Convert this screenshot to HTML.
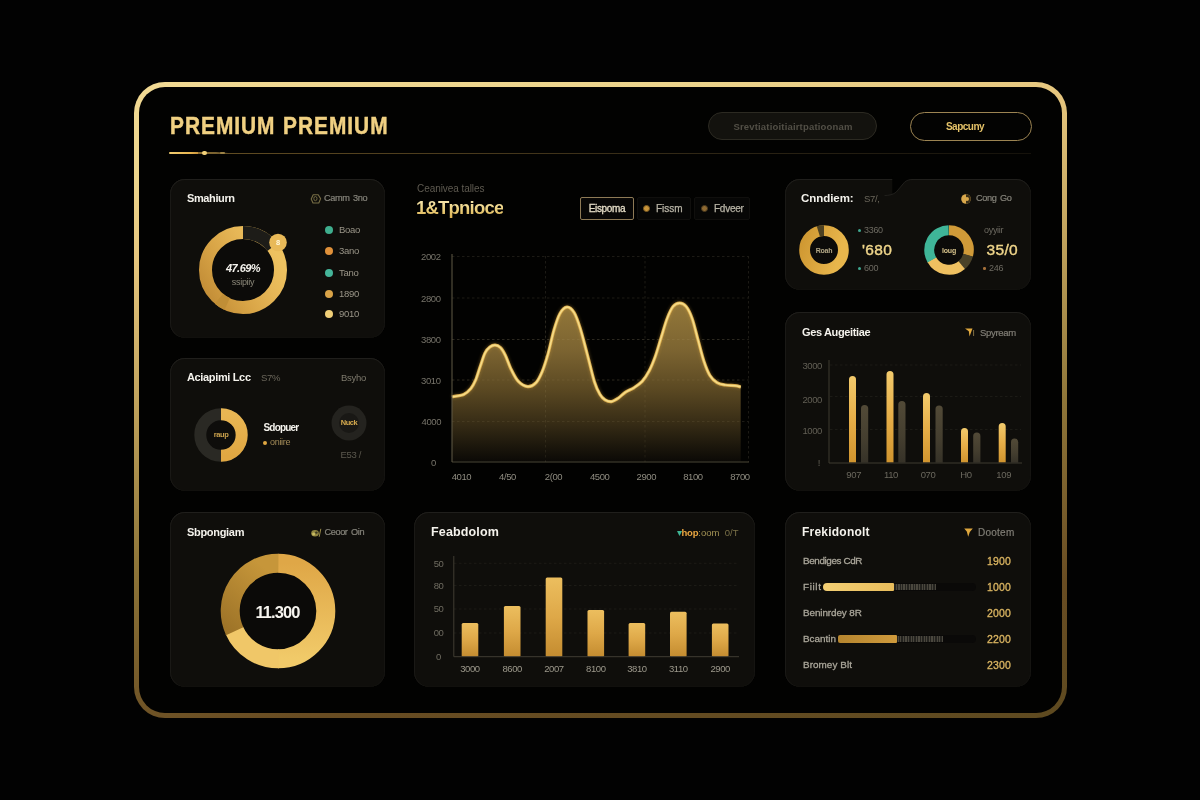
<!DOCTYPE html>
<html lang="en">
<head>
<meta charset="utf-8">
<title>Premium Premium</title>
<style>
*{box-sizing:border-box;margin:0;padding:0}
html,body{width:1200px;height:800px;overflow:hidden;background:#020202;font-family:"Liberation Sans",sans-serif;color:#fff}
body{position:relative;background:#020202}
.abs{position:absolute}
.frame{position:absolute;left:134px;top:82px;width:933px;height:636px;border-radius:31px;padding:5.3px;
 background:linear-gradient(170deg,#f2da94 0%,#ecd48c 12%,#e6c67e 22%,#c0a25c 40%,#8f7639 60%,#684c22 83%,#5e4a20 100%)}
.frame-in{width:100%;height:100%;border-radius:26px;background:#020201}
.card{position:absolute;background:#0f0e0b;border-radius:15px;box-shadow:inset 0 1px 0 #201f1c,inset 1px 0 0 #1a1916,inset -1px 0 0 #151411,inset 0 -1px 0 #11100d}
.t{position:absolute;white-space:nowrap;line-height:1}
.w{color:#f4f2ec;font-weight:700;font-size:11px;letter-spacing:-0.35px}
.g{color:#85806f;font-size:9.5px;letter-spacing:-0.3px}
.gd{color:#85837a;font-size:9.2px;letter-spacing:-0.4px;-webkit-text-stroke:0.2px #85837a}
.au{color:#e8c46a}
</style>
</head>
<body>
<div class="frame"><div class="frame-in"></div></div>

<!-- header -->
<div class="t" id="title" style="left:170px;top:115px;font-size:23.2px;font-weight:700;letter-spacing:1.1px;word-spacing:0.9px;color:#f0d082;-webkit-text-stroke:0.45px #f0d082;transform-origin:0 50%;transform:scaleX(0.9)">PREMIUM PREMIUM</div>
<div class="abs" style="left:170px;top:152.6px;width:861px;height:1px;background:linear-gradient(90deg,#6a5426 0%,#5a4720 12%,#493a1c 35%,#2c2414 65%,#15120b 100%)"></div>
<div class="abs" style="left:169px;top:151.6px;width:30px;height:2.8px;border-radius:1.5px;background:linear-gradient(90deg,#f0cc70 0%,#e8b650 70%,#c8923a 100%)"></div>
<div class="abs" style="left:198px;top:152.2px;width:30px;height:1.8px;background:linear-gradient(90deg,#8a6c30 0%,#7a6230 60%,rgba(106,84,38,0) 100%)"></div>
<div class="abs" style="left:201.5px;top:151px;width:5.5px;height:4px;border-radius:2px;background:#f3d27a"></div>
<div class="abs" style="left:220px;top:152px;width:5px;height:2px;border-radius:1px;background:#9c8246"></div>

<div class="abs" style="left:708px;top:112px;width:169px;height:28px;border-radius:14px;background:#13120e;border:1px solid #2c2a22"></div>
<div class="t g" style="left:708.5px;width:169px;text-align:center;top:122.3px;font-size:9.5px;font-weight:700;color:#524f46;letter-spacing:0.18px">Srevtiatioitiairtpatioonam</div>
<div class="abs" style="left:910px;top:112px;width:122px;height:29px;border-radius:15px;background:#030302;border:1.2px solid #9c8452"></div>
<div class="t" style="left:904px;width:122px;text-align:center;top:121.5px;font-size:10px;font-weight:700;color:#e4c268;letter-spacing:-0.5px">Sapcuny</div>


<!-- cards -->
<div class="card" id="c1" style="left:170.3px;top:179.3px;width:214.7px;height:158.5px"></div>
<div class="card" id="c2" style="left:170.3px;top:357.6px;width:214.7px;height:133px"></div>
<div class="card" id="c3" style="left:170.3px;top:511.5px;width:214.7px;height:175px"></div>
<div class="card" id="c4" style="left:785px;top:179.3px;width:246px;height:111px"></div>
<div class="card" id="c5" style="left:785px;top:311.6px;width:246px;height:179.4px"></div>
<div class="card" id="c6" style="left:785px;top:511.5px;width:246px;height:175px"></div>
<div class="card" id="c7" style="left:414px;top:511.5px;width:341px;height:175px"></div>

<!-- card 1 -->
<div class="t w" style="left:187px;top:193px;letter-spacing:-0.39px">Smahiurn</div>
<svg class="abs" style="left:310.3px;top:193.3px" width="12" height="12" viewBox="0 0 12 12"><path d="M3.2 1.8H8.2L10.6 5.6L8.8 10H3L1.2 6Z" fill="none" stroke="#786e46" stroke-width="1.1" stroke-linejoin="round"/><ellipse cx="5.4" cy="5.6" rx="1.6" ry="2.1" fill="none" stroke="#786e46" stroke-width="0.9"/></svg>
<div class="t gd" style="left:324px;top:193.5px">Camm&nbsp;&thinsp;3no</div>
<svg class="abs" style="left:191px;top:218px" width="104" height="104" viewBox="-52 -52 104 104">
 <defs><linearGradient id="gA" x1="0.05" y1="0.85" x2="0.95" y2="0.3"><stop offset="0" stop-color="#c48f38"/><stop offset="0.35" stop-color="#d8a446"/><stop offset="0.7" stop-color="#e6b656"/><stop offset="1" stop-color="#eec260"/></linearGradient></defs>
 <circle r="31" fill="#0c0b09"/>
 <circle r="37.5" fill="none" stroke="url(#gA)" stroke-width="13"/>
 <path d="M0 -37.5 A37.5 37.5 0 0 1 29.5 -23.1" fill="none" stroke="#1d1c18" stroke-width="13"/>
 <path d="M-15.85 33.99 A37.5 37.5 0 0 1 -24.1 28.73" fill="none" stroke="#c08e36" stroke-width="13"/>
 <circle cx="35" cy="-27.5" r="8.8" fill="#e8b958"/>
 <text x="35" y="-24.8" font-size="7.5" fill="#fff7dc" text-anchor="middle" font-family="Liberation Sans, sans-serif" font-weight="700">8</text>
</svg>
<div class="t" style="left:203px;width:80px;text-align:center;top:262.5px;font-size:11px;font-weight:700;font-style:italic;color:#f4f2ec;letter-spacing:-0.55px">47.69%</div>
<div class="t g" style="left:203px;width:80px;text-align:center;top:277.5px;font-size:9px;color:#8b8778">ssipiiy</div>
<div class="abs" style="left:325px;top:226.3px;width:8px;height:8px;border-radius:50%;background:#3fae8e"></div><div class="t g" style="left:339px;top:225.3px;font-size:9.5px;color:#9a9588">Boao</div>
<div class="abs" style="left:325px;top:247.4px;width:8px;height:8px;border-radius:50%;background:#e0913a"></div><div class="t g" style="left:339px;top:246.4px;font-size:9.5px;color:#9a9588">3ano</div>
<div class="abs" style="left:325px;top:268.5px;width:8px;height:8px;border-radius:50%;background:#45b59a"></div><div class="t g" style="left:339px;top:267.5px;font-size:9.5px;color:#9a9588">Tano</div>
<div class="abs" style="left:325px;top:289.5px;width:8px;height:8px;border-radius:50%;background:#d9a348"></div><div class="t g" style="left:339px;top:288.5px;font-size:9.5px;color:#9a9588">1890</div>
<div class="abs" style="left:325px;top:310px;width:8px;height:8px;border-radius:50%;background:#f0cf78"></div><div class="t g" style="left:339px;top:309px;font-size:9.5px;color:#9a9588">9010</div>

<!-- card 2 -->
<div class="t w" style="left:187px;top:372px;letter-spacing:-0.35px">Aciapimi Lcc</div>
<div class="t g" style="left:261px;top:373px;color:#6b675b">S7&#37;</div>
<div class="t g" style="left:341px;top:373px;color:#7d796c">Bsyho</div>
<svg class="abs" style="left:191px;top:405px" width="60" height="60" viewBox="-30 -30 60 60">
 <defs><linearGradient id="gB" x1="0" y1="0" x2="0" y2="1"><stop offset="0" stop-color="#e9b653"/><stop offset="1" stop-color="#e0a742"/></linearGradient></defs>
 <circle r="15" fill="#0e0d0b"/>
 <circle r="20.7" fill="none" stroke="#2a2924" stroke-width="12"/>
 <path d="M0.00 -20.70 A20.7 20.7 0 0 1 0.00 20.70" fill="none" stroke="url(#gB)" stroke-width="12"/>
</svg>
<div class="t" style="left:201px;width:40px;text-align:center;top:431px;font-size:7.5px;font-weight:700;color:#c9a04c;letter-spacing:-0.4px">raup</div>
<div class="t w" style="left:263.5px;top:422.5px;font-size:10px;letter-spacing:-0.8px">Sdopuer</div>
<div class="abs" style="left:262.5px;top:440.5px;width:4px;height:4px;border-radius:50%;background:#e0a742"></div>
<div class="t g" style="left:270px;top:438px;color:#a48c58;font-size:9px">oniire</div>
<svg class="abs" style="left:329px;top:402.5px" width="40" height="40" viewBox="-20 -20 40 40">
 <circle r="17.5" fill="#24231f"/><circle r="10" fill="#191815"/>
</svg>
<div class="t" style="left:329px;width:40px;text-align:center;top:419px;font-size:7.5px;font-weight:700;color:#d4a94e;letter-spacing:-0.4px">Nuck</div>
<div class="t g" style="left:340.5px;top:450px;color:#5c594f">E53 /</div>

<!-- card 3 -->
<div class="t w" style="left:187px;top:527px;letter-spacing:-0.31px">Sbpongiam</div>
<svg class="abs" style="left:309.5px;top:527px" width="12" height="12" viewBox="0 0 12 12"><ellipse cx="5" cy="6.3" rx="3.8" ry="3.2" fill="#8f8440"/><circle cx="3.6" cy="7" r="1.5" fill="#c9bc62"/><circle cx="6.4" cy="5.6" r="1.2" fill="#3a3620"/><path d="M9.2 9.8L10.8 1.8" stroke="#9a8c4a" stroke-width="1" fill="none"/></svg>
<div class="t gd" style="left:324.5px;top:528px">Ceoor&nbsp;&thinsp;Oin</div>
<svg class="abs" style="left:217.5px;top:551px" width="120" height="120" viewBox="-60 -60 120 120">
 <defs>
  <linearGradient id="gC1" x1="0" y1="0" x2="0" y2="1"><stop offset="0" stop-color="#dfa747"/><stop offset="1" stop-color="#f1ca69"/></linearGradient>
  <linearGradient id="gC2" x1="0" y1="1" x2="0.6" y2="0"><stop offset="0" stop-color="#9e7428"/><stop offset="1" stop-color="#c6963a"/></linearGradient>
 </defs>
 <circle r="38.5" fill="#0b0a08"/>
 <path d="M0.00 -47.80 A47.8 47.8 0 0 1 0.00 47.80" fill="none" stroke="url(#gC1)" stroke-width="19"/>
 <path d="M0.83 47.79 A47.8 47.8 0 0 1 -43.67 19.44" fill="none" stroke="#f0c768" stroke-width="19"/>
 <path d="M-43.32 20.20 A47.8 47.8 0 0 1 0.42 -47.80" fill="none" stroke="url(#gC2)" stroke-width="19"/>
</svg>
<div class="t" style="left:237.5px;width:80px;text-align:center;top:604px;font-size:16.5px;font-weight:700;color:#f6f4ee;letter-spacing:-0.9px">11.300</div>

<!-- card 4 -->
<svg class="abs" style="left:880px;top:176px" width="40" height="24" viewBox="0 0 40 24"><path d="M12.3 0H33V3.2C29 3.4 26.5 4.4 24.5 6.2C21.5 9 19.5 13 16.3 16C15 17.2 13.8 17.6 12.3 17.8Z" fill="#020201"/><path d="M4.5 19.6C9 19.4 13.5 18.6 16.3 16C19.5 13 21.5 9 24.5 6.2C26.5 4.4 29 3.5 33 3.5" fill="none" stroke="#22211e" stroke-width="0.9"/></svg>
<div class="t w" style="left:801px;top:192.5px;font-size:11.5px;letter-spacing:-0.05px">Cnndiem:</div>
<div class="t g" style="left:864px;top:194px;color:#6b675b">S7/,</div>
<svg class="abs" style="left:960px;top:193px" width="12" height="12" viewBox="0 0 12 12"><circle cx="6" cy="6" r="4.8" fill="#d9a84c"/><path d="M6 1.2 A4.8 4.8 0 0 1 6 10.8 Z" fill="#3a2f18"/><circle cx="7" cy="6" r="2" fill="#d9a84c"/></svg>
<div class="t gd" style="left:976px;top:194px">Cong&nbsp;&thinsp;Go</div>
<svg class="abs" style="left:794px;top:220px" width="60" height="60" viewBox="-30 -30 60 60">
 <defs><linearGradient id="gD" x1="0" y1="0" x2="1" y2="0.3"><stop offset="0" stop-color="#cf9832"/><stop offset="1" stop-color="#e8b64c"/></linearGradient></defs>
 <circle r="14.2" fill="#0c0b09"/>
 <circle r="19.4" fill="none" stroke="url(#gD)" stroke-width="10.8"/>
 <path d="M-5.67 -18.55 A19.4 19.4 0 0 1 -0.00 -19.40" fill="none" stroke="#4d4122" stroke-width="10.8"/>
</svg>
<div class="t" style="left:804px;width:40px;text-align:center;top:246.5px;font-size:7px;font-weight:700;color:#b5a987;letter-spacing:-0.2px">Roah</div>
<div class="abs" style="left:858px;top:228.5px;width:3px;height:3px;border-radius:50%;background:#3fa890"></div>
<div class="t g" style="left:864px;top:225.5px;color:#6d6a61;font-size:9px">3360</div>
<div class="t" style="left:862px;top:242px;font-size:15.5px;font-weight:400;-webkit-text-stroke:0.4px #efd58a;color:#efd58a;letter-spacing:0.35px">'680</div>
<div class="abs" style="left:858px;top:267px;width:3px;height:3px;border-radius:50%;background:#3fa890"></div>
<div class="t g" style="left:864px;top:264px;color:#6d6a61;font-size:9px">600</div>
<svg class="abs" style="left:918.7px;top:220px" width="60" height="60" viewBox="-30 -30 60 60">
 <circle r="15" fill="#0c0b09"/>
 <path d="M0.00 -19.75 A19.75 19.75 0 0 1 18.98 5.44" fill="none" stroke="#d09a38" stroke-width="10"/>
 <path d="M19.08 5.11 A19.75 19.75 0 0 1 12.43 15.35" fill="none" stroke="#4a4228" stroke-width="10"/>
 <path d="M12.70 15.13 A19.75 19.75 0 0 1 -17.27 9.57" fill="none" stroke="#efc060" stroke-width="10"/>
 <path d="M-17.10 9.88 A19.75 19.75 0 0 1 -0.34 -19.75" fill="none" stroke="#3fb598" stroke-width="10"/>
</svg>
<div class="t" style="left:929px;width:40px;text-align:center;top:246.5px;font-size:7px;font-weight:700;color:#d8c48c;letter-spacing:-0.2px">loug</div>
<div class="t g" style="left:984px;top:225.5px;color:#6d6a61;font-size:9px">oyyiir</div>
<div class="t" style="left:986.5px;top:242px;font-size:15.5px;font-weight:400;-webkit-text-stroke:0.4px #efd58a;color:#efd58a;letter-spacing:0.35px">35/0</div>
<div class="abs" style="left:983px;top:267px;width:2.5px;height:2.5px;border-radius:50%;background:#a4703a"></div>
<div class="t g" style="left:989px;top:264px;color:#6d6a61;font-size:9px">246</div>

<!-- center chart -->
<div class="t g" style="left:417px;top:184px;color:#5f5b51;font-size:10px;letter-spacing:-0.06px">Ceanivea talles</div>
<div class="t" style="left:416px;top:199px;font-size:18.5px;font-weight:700;letter-spacing:-0.8px;background:linear-gradient(180deg,#f8eab8 0%,#ecd07c 55%,#d9ae50 100%);-webkit-background-clip:text;background-clip:text;color:transparent">1&amp;Tpnioce</div>
<div class="abs" style="left:580px;top:197px;width:54px;height:23px;border:1px solid #8e7a56;border-radius:2px;background:#080706"></div>
<div class="t" style="left:580px;width:54px;text-align:center;top:203.5px;font-size:10px;color:#e4dcc6;letter-spacing:-0.35px;-webkit-text-stroke:0.3px #e4dcc6">Eispoma</div>
<div class="abs" style="left:637px;top:197px;width:54px;height:23px;border:1px solid #100f0d;border-radius:2px;background:#070706"></div>
<div class="abs" style="left:643px;top:205px;width:7px;height:7px;border-radius:50%;background:#c9953a;border:1.5px solid #7a5a22"></div>
<div class="t" style="left:656px;top:203.5px;font-size:10px;color:#b8b4a6;letter-spacing:0px;-webkit-text-stroke:0.25px #b8b4a6">Fissm</div>
<div class="abs" style="left:694px;top:197px;width:56px;height:23px;border:1px solid #100f0d;border-radius:2px;background:#070706"></div>
<div class="abs" style="left:701px;top:205px;width:7px;height:7px;border-radius:50%;background:#8f6a32;border:1.5px solid #4a3a1e"></div>
<div class="t" style="left:714px;top:203.5px;font-size:10px;color:#b8b4a6;letter-spacing:-0.25px;-webkit-text-stroke:0.25px #b8b4a6">Fdveer</div>
<svg class="abs" style="left:405px;top:240px" width="360" height="250" viewBox="0 0 360 250">
 <defs>
  <linearGradient id="gArea" x1="0" y1="62" x2="0" y2="222" gradientUnits="userSpaceOnUse">
   <stop offset="0" stop-color="#94783a"/><stop offset="0.3" stop-color="#7c6431"/><stop offset="0.55" stop-color="#5a4822"/><stop offset="0.75" stop-color="#382d16"/><stop offset="0.9" stop-color="#1c170c"/><stop offset="1" stop-color="#0b0906"/>
  </linearGradient>
  <filter id="glow" x="-5%" y="-20%" width="110%" height="140%"><feGaussianBlur stdDeviation="1.6"/></filter>
 </defs>
 <g stroke="#1c1a15" stroke-width="1" stroke-dasharray="2.5 2.5" fill="none">
  <path d="M47 16.5H344M47 58H344M47 99.5H344M47 140H344M47 181.5H344"/>
  <path d="M140.5 16V222M240 16V222M343.5 16V222"/>
 </g>
 <path d="M46.9 156.8 C48.9 156.4 55.5 155.9 58.7 154.5 C61.9 153.1 63.9 150.9 65.9 148.5 C67.9 146.1 69.0 143.9 70.6 140.2 C72.2 136.4 73.8 130.6 75.4 126.0 C77.0 121.5 78.5 116.1 80.1 112.9 C81.7 109.7 83.2 108.3 84.9 107.0 C86.6 105.7 88.3 105.0 90.1 105.1 C91.9 105.2 93.8 106.0 95.5 107.7 C97.2 109.4 98.5 111.7 100.3 115.3 C102.1 118.9 104.0 125.2 106.2 129.5 C108.4 133.8 110.5 138.5 113.3 141.4 C116.1 144.2 119.8 146.4 122.8 146.6 C125.8 146.8 128.7 145.1 131.1 142.6 C133.5 140.2 135.1 136.6 137.1 131.9 C139.1 127.1 141.0 121.0 143.0 114.1 C145.0 107.2 146.9 97.1 148.9 90.4 C150.9 83.7 152.7 77.6 154.9 73.7 C157.1 69.8 159.6 67.3 162.0 67.1 C164.4 66.9 166.9 69.1 169.1 72.6 C171.3 76.1 172.9 81.1 175.1 88.0 C177.3 94.9 179.8 105.2 182.2 114.1 C184.6 123.0 187.2 134.7 189.3 141.4 C191.4 148.1 193.2 151.4 195.0 154.5 C196.8 157.6 198.1 158.6 200.0 159.8 C201.9 161.0 204.1 161.9 206.4 161.6 C208.6 161.3 211.1 159.6 213.5 158.0 C215.9 156.4 218.0 153.8 220.6 152.1 C223.2 150.4 226.1 149.6 228.9 147.8 C231.7 146.0 234.6 144.2 237.2 141.4 C239.8 138.5 242.1 134.8 244.3 130.7 C246.5 126.5 248.3 122.0 250.3 116.5 C252.3 111.0 254.2 103.8 256.2 97.5 C258.2 91.2 260.2 83.6 262.2 78.5 C264.2 73.4 266.0 69.2 268.1 66.6 C270.2 64.0 272.5 63.1 274.7 63.1 C276.9 63.1 279.0 64.0 281.1 66.6 C283.2 69.2 285.1 73.0 287.1 78.5 C289.1 84.0 291.0 92.8 293.0 99.9 C295.0 107.0 296.9 115.3 298.9 121.2 C300.9 127.1 302.7 131.9 304.9 135.5 C307.1 139.1 309.4 141.0 312.0 142.6 C314.6 144.2 317.3 144.5 320.3 145.0 C323.3 145.5 327.2 145.4 329.8 145.7 C332.4 146.0 334.7 146.7 335.7 146.9 L335.7 221.6 L46.9 221.6 Z" fill="url(#gArea)"/>
 <g stroke="rgba(255,236,190,0.07)" stroke-width="1" stroke-dasharray="2.5 2.5" fill="none"><path d="M47 99.5H336M47 140H336M47 181.5H336"/><path d="M140.5 70V222M240 145V222"/></g>
 <path d="M46.9 156.8 C48.9 156.4 55.5 155.9 58.7 154.5 C61.9 153.1 63.9 150.9 65.9 148.5 C67.9 146.1 69.0 143.9 70.6 140.2 C72.2 136.4 73.8 130.6 75.4 126.0 C77.0 121.5 78.5 116.1 80.1 112.9 C81.7 109.7 83.2 108.3 84.9 107.0 C86.6 105.7 88.3 105.0 90.1 105.1 C91.9 105.2 93.8 106.0 95.5 107.7 C97.2 109.4 98.5 111.7 100.3 115.3 C102.1 118.9 104.0 125.2 106.2 129.5 C108.4 133.8 110.5 138.5 113.3 141.4 C116.1 144.2 119.8 146.4 122.8 146.6 C125.8 146.8 128.7 145.1 131.1 142.6 C133.5 140.2 135.1 136.6 137.1 131.9 C139.1 127.1 141.0 121.0 143.0 114.1 C145.0 107.2 146.9 97.1 148.9 90.4 C150.9 83.7 152.7 77.6 154.9 73.7 C157.1 69.8 159.6 67.3 162.0 67.1 C164.4 66.9 166.9 69.1 169.1 72.6 C171.3 76.1 172.9 81.1 175.1 88.0 C177.3 94.9 179.8 105.2 182.2 114.1 C184.6 123.0 187.2 134.7 189.3 141.4 C191.4 148.1 193.2 151.4 195.0 154.5 C196.8 157.6 198.1 158.6 200.0 159.8 C201.9 161.0 204.1 161.9 206.4 161.6 C208.6 161.3 211.1 159.6 213.5 158.0 C215.9 156.4 218.0 153.8 220.6 152.1 C223.2 150.4 226.1 149.6 228.9 147.8 C231.7 146.0 234.6 144.2 237.2 141.4 C239.8 138.5 242.1 134.8 244.3 130.7 C246.5 126.5 248.3 122.0 250.3 116.5 C252.3 111.0 254.2 103.8 256.2 97.5 C258.2 91.2 260.2 83.6 262.2 78.5 C264.2 73.4 266.0 69.2 268.1 66.6 C270.2 64.0 272.5 63.1 274.7 63.1 C276.9 63.1 279.0 64.0 281.1 66.6 C283.2 69.2 285.1 73.0 287.1 78.5 C289.1 84.0 291.0 92.8 293.0 99.9 C295.0 107.0 296.9 115.3 298.9 121.2 C300.9 127.1 302.7 131.9 304.9 135.5 C307.1 139.1 309.4 141.0 312.0 142.6 C314.6 144.2 317.3 144.5 320.3 145.0 C323.3 145.5 327.2 145.4 329.8 145.7 C332.4 146.0 334.7 146.7 335.7 146.9" fill="none" stroke="#c99a3c" stroke-width="4.5" opacity="0.3" filter="url(#glow)"/>
 <path d="M46.9 156.8 C48.9 156.4 55.5 155.9 58.7 154.5 C61.9 153.1 63.9 150.9 65.9 148.5 C67.9 146.1 69.0 143.9 70.6 140.2 C72.2 136.4 73.8 130.6 75.4 126.0 C77.0 121.5 78.5 116.1 80.1 112.9 C81.7 109.7 83.2 108.3 84.9 107.0 C86.6 105.7 88.3 105.0 90.1 105.1 C91.9 105.2 93.8 106.0 95.5 107.7 C97.2 109.4 98.5 111.7 100.3 115.3 C102.1 118.9 104.0 125.2 106.2 129.5 C108.4 133.8 110.5 138.5 113.3 141.4 C116.1 144.2 119.8 146.4 122.8 146.6 C125.8 146.8 128.7 145.1 131.1 142.6 C133.5 140.2 135.1 136.6 137.1 131.9 C139.1 127.1 141.0 121.0 143.0 114.1 C145.0 107.2 146.9 97.1 148.9 90.4 C150.9 83.7 152.7 77.6 154.9 73.7 C157.1 69.8 159.6 67.3 162.0 67.1 C164.4 66.9 166.9 69.1 169.1 72.6 C171.3 76.1 172.9 81.1 175.1 88.0 C177.3 94.9 179.8 105.2 182.2 114.1 C184.6 123.0 187.2 134.7 189.3 141.4 C191.4 148.1 193.2 151.4 195.0 154.5 C196.8 157.6 198.1 158.6 200.0 159.8 C201.9 161.0 204.1 161.9 206.4 161.6 C208.6 161.3 211.1 159.6 213.5 158.0 C215.9 156.4 218.0 153.8 220.6 152.1 C223.2 150.4 226.1 149.6 228.9 147.8 C231.7 146.0 234.6 144.2 237.2 141.4 C239.8 138.5 242.1 134.8 244.3 130.7 C246.5 126.5 248.3 122.0 250.3 116.5 C252.3 111.0 254.2 103.8 256.2 97.5 C258.2 91.2 260.2 83.6 262.2 78.5 C264.2 73.4 266.0 69.2 268.1 66.6 C270.2 64.0 272.5 63.1 274.7 63.1 C276.9 63.1 279.0 64.0 281.1 66.6 C283.2 69.2 285.1 73.0 287.1 78.5 C289.1 84.0 291.0 92.8 293.0 99.9 C295.0 107.0 296.9 115.3 298.9 121.2 C300.9 127.1 302.7 131.9 304.9 135.5 C307.1 139.1 309.4 141.0 312.0 142.6 C314.6 144.2 317.3 144.5 320.3 145.0 C323.3 145.5 327.2 145.4 329.8 145.7 C332.4 146.0 334.7 146.7 335.7 146.9" fill="none" stroke="#d9ac4e" stroke-width="3.2"/>
 <path d="M46.9 156.8 C48.9 156.4 55.5 155.9 58.7 154.5 C61.9 153.1 63.9 150.9 65.9 148.5 C67.9 146.1 69.0 143.9 70.6 140.2 C72.2 136.4 73.8 130.6 75.4 126.0 C77.0 121.5 78.5 116.1 80.1 112.9 C81.7 109.7 83.2 108.3 84.9 107.0 C86.6 105.7 88.3 105.0 90.1 105.1 C91.9 105.2 93.8 106.0 95.5 107.7 C97.2 109.4 98.5 111.7 100.3 115.3 C102.1 118.9 104.0 125.2 106.2 129.5 C108.4 133.8 110.5 138.5 113.3 141.4 C116.1 144.2 119.8 146.4 122.8 146.6 C125.8 146.8 128.7 145.1 131.1 142.6 C133.5 140.2 135.1 136.6 137.1 131.9 C139.1 127.1 141.0 121.0 143.0 114.1 C145.0 107.2 146.9 97.1 148.9 90.4 C150.9 83.7 152.7 77.6 154.9 73.7 C157.1 69.8 159.6 67.3 162.0 67.1 C164.4 66.9 166.9 69.1 169.1 72.6 C171.3 76.1 172.9 81.1 175.1 88.0 C177.3 94.9 179.8 105.2 182.2 114.1 C184.6 123.0 187.2 134.7 189.3 141.4 C191.4 148.1 193.2 151.4 195.0 154.5 C196.8 157.6 198.1 158.6 200.0 159.8 C201.9 161.0 204.1 161.9 206.4 161.6 C208.6 161.3 211.1 159.6 213.5 158.0 C215.9 156.4 218.0 153.8 220.6 152.1 C223.2 150.4 226.1 149.6 228.9 147.8 C231.7 146.0 234.6 144.2 237.2 141.4 C239.8 138.5 242.1 134.8 244.3 130.7 C246.5 126.5 248.3 122.0 250.3 116.5 C252.3 111.0 254.2 103.8 256.2 97.5 C258.2 91.2 260.2 83.6 262.2 78.5 C264.2 73.4 266.0 69.2 268.1 66.6 C270.2 64.0 272.5 63.1 274.7 63.1 C276.9 63.1 279.0 64.0 281.1 66.6 C283.2 69.2 285.1 73.0 287.1 78.5 C289.1 84.0 291.0 92.8 293.0 99.9 C295.0 107.0 296.9 115.3 298.9 121.2 C300.9 127.1 302.7 131.9 304.9 135.5 C307.1 139.1 309.4 141.0 312.0 142.6 C314.6 144.2 317.3 144.5 320.3 145.0 C323.3 145.5 327.2 145.4 329.8 145.7 C332.4 146.0 334.7 146.7 335.7 146.9" fill="none" stroke="#f6dc88" stroke-width="1.6"/>
 <path d="M47 222H344" fill="none" stroke="#4a4637" stroke-width="1"/><path d="M47 14V222" fill="none" stroke="#615b46" stroke-width="1"/>
 <g font-family="Liberation Sans, sans-serif" font-size="9.5" fill="#77746a" letter-spacing="-0.4">
  <text x="16" y="19.5">2002</text><text x="16" y="61.5">2800</text><text x="16" y="103">3800</text><text x="16" y="143.5">3010</text><text x="16.5" y="185">4000</text><text x="26" y="225.5">0</text>
 </g>
 <g font-family="Liberation Sans, sans-serif" font-size="9.5" fill="#8f8c80" letter-spacing="-0.4" text-anchor="middle">
  <text x="56.5" y="239.5">4010</text><text x="102.5" y="239.5">4/50</text><text x="148.5" y="239.5">2(00</text><text x="194.7" y="239.5">4500</text><text x="241.3" y="239.5">2900</text><text x="288" y="239.5">8100</text><text x="335" y="239.5">8700</text>
 </g>
</svg>

<!-- card 7 -->
<div class="t w" style="left:431px;top:525.5px;font-size:12.5px;letter-spacing:0.15px">Feabdolom</div>
<div class="t" style="left:676.5px;top:527.5px;font-size:9.5px;letter-spacing:0px;color:#a39355"><span style="color:#3fb595">&#9662;</span><b style="color:#eaa640;letter-spacing:-0.2px">hop</b>:oom&nbsp; <span style="color:#7a7048">0/T</span></div>
<svg class="abs" style="left:414px;top:513px" width="341" height="172" viewBox="0 0 341 172">
 <defs><linearGradient id="gBar7" x1="0" y1="0" x2="0" y2="1"><stop offset="0" stop-color="#ecbe5e"/><stop offset="0.5" stop-color="#dea848"/><stop offset="1" stop-color="#c48c30"/></linearGradient></defs>
 <path d="M40 50.3H325M40 72.5H325M40 96.0H325M40 120.0H325" stroke="#1c1b16" stroke-width="1" stroke-dasharray="2.5 2.5" fill="none"/>
 <rect x="47.7" y="109.9" width="16.6" height="33.8" rx="1.5" fill="url(#gBar7)"/><rect x="89.9" y="93.0" width="16.6" height="50.7" rx="1.5" fill="url(#gBar7)"/><rect x="131.7" y="64.6" width="16.6" height="79.1" rx="1.5" fill="url(#gBar7)"/><rect x="173.5" y="96.9" width="16.6" height="46.8" rx="1.5" fill="url(#gBar7)"/><rect x="214.6" y="109.9" width="16.6" height="33.8" rx="1.5" fill="url(#gBar7)"/><rect x="256.0" y="98.8" width="16.6" height="44.9" rx="1.5" fill="url(#gBar7)"/><rect x="297.9" y="110.5" width="16.6" height="33.2" rx="1.5" fill="url(#gBar7)"/>
 <path d="M39.8 43V143.7H325" fill="none" stroke="#403d33" stroke-width="1"/>
 <g font-family="Liberation Sans, sans-serif" font-size="9.5" fill="#6f6c61" letter-spacing="-0.4"><text x="29.5" y="53.6" text-anchor="end">50</text><text x="29.5" y="75.8" text-anchor="end">80</text><text x="29.5" y="99.3" text-anchor="end">50</text><text x="29.5" y="123.3" text-anchor="end">00</text><text x="27" y="147.0" text-anchor="end">0</text></g>
 <g font-family="Liberation Sans, sans-serif" font-size="9.5" fill="#9c988b" letter-spacing="-0.4" text-anchor="middle"><text x="56.0" y="159.3">3000</text><text x="98.2" y="159.3">8600</text><text x="140.0" y="159.3">2007</text><text x="181.8" y="159.3">8100</text><text x="222.9" y="159.3">3810</text><text x="264.3" y="159.3">3110</text><text x="306.2" y="159.3">2900</text></g>
</svg>

<!-- card 5 -->
<div class="t w" style="left:802px;top:327px;letter-spacing:-0.37px">Ges Augeitiae</div>
<svg class="abs" style="left:964px;top:327px" width="11" height="11" viewBox="0 0 11 11"><path d="M1 1.5H8.5L5.5 9.5L4.8 4.2Z" fill="#e0a83e"/><path d="M9.6 3V9" stroke="#8d7a48" stroke-width="0.9"/></svg>
<div class="t g" style="left:980px;top:328px;color:#807e76;-webkit-text-stroke:0.2px #807e76">Spyream</div>
<svg class="abs" style="left:785px;top:311px" width="246" height="180" viewBox="0 0 246 180">
 <defs>
  <linearGradient id="gBar5" x1="0" y1="0" x2="0" y2="1"><stop offset="0" stop-color="#f2ca6c"/><stop offset="0.5" stop-color="#e6ae48"/><stop offset="1" stop-color="#d0942e"/></linearGradient>
  <linearGradient id="gBar5d" x1="0" y1="0" x2="0" y2="1"><stop offset="0" stop-color="#524a37"/><stop offset="0.6" stop-color="#443e2f"/><stop offset="1" stop-color="#363228"/></linearGradient>
 </defs>
 <path d="M45 54H236M45 85.5H236M45 118.5H236" stroke="#1c1b16" stroke-width="1" stroke-dasharray="2.5 2.5" fill="none"/>
 <path d="M64.0 151.5V68.5a3.5 3.5 0 0 1 7 0V151.5Z" fill="url(#gBar5)"/><path d="M101.5 151.5V63.5a3.5 3.5 0 0 1 7 0V151.5Z" fill="url(#gBar5)"/><path d="M138.0 151.5V85.5a3.5 3.5 0 0 1 7 0V151.5Z" fill="url(#gBar5)"/><path d="M176.0 151.5V120.5a3.5 3.5 0 0 1 7 0V151.5Z" fill="url(#gBar5)"/><path d="M213.7 151.5V115.5a3.5 3.5 0 0 1 7 0V151.5Z" fill="url(#gBar5)"/><path d="M76.0 151.5V97.5a3.6 3.6 0 0 1 7.2 0V151.5Z" fill="url(#gBar5d)"/><path d="M113.3 151.5V93.5a3.6 3.6 0 0 1 7.2 0V151.5Z" fill="url(#gBar5d)"/><path d="M150.5 151.5V98.0a3.6 3.6 0 0 1 7.2 0V151.5Z" fill="url(#gBar5d)"/><path d="M188.2 151.5V125.0a3.6 3.6 0 0 1 7.2 0V151.5Z" fill="url(#gBar5d)"/><path d="M226.0 151.5V131.2a3.6 3.6 0 0 1 7.2 0V151.5Z" fill="url(#gBar5d)"/>
 <path d="M44 49V152.0H237" fill="none" stroke="#3e3b31" stroke-width="1"/>
 <g font-family="Liberation Sans, sans-serif" font-size="9.5" fill="#625f55" letter-spacing="-0.4" text-anchor="end">
  <text x="37" y="57.5">3000</text><text x="37" y="91.5">2000</text><text x="37" y="122.5">1000</text><text x="35" y="155">!</text>
 </g>
 <g font-family="Liberation Sans, sans-serif" font-size="9.5" fill="#6b685e" letter-spacing="-0.4" text-anchor="middle"><text x="68.7" y="166.5">907</text><text x="106.0" y="166.5">110</text><text x="143.0" y="166.5">070</text><text x="181.0" y="166.5">H0</text><text x="218.7" y="166.5">109</text></g>
</svg>

<!-- card 6 -->
<div class="t w" style="left:802px;top:526px;font-size:12px;letter-spacing:0.22px">Frekidonolt</div>
<svg class="abs" style="left:963px;top:526.5px" width="11" height="11" viewBox="0 0 11 11"><path d="M1.2 1.5H9.8L6.8 5 5.2 9.8 3.8 4.6Z" fill="#e0a83e"/></svg>
<div class="t g" style="left:978px;top:527.5px;color:#807e76;font-size:10px;letter-spacing:0.25px;-webkit-text-stroke:0.2px #807e76">Dootem</div>
<div class="t" style="left:803px;top:556.0px;font-size:9.9px;color:#aaa69a;letter-spacing:-0.39px;-webkit-text-stroke:0.3px #aaa69a">Bendiges CdR</div><div class="t" style="left:987px;top:556px;font-size:10.5px;color:#dcb662;letter-spacing:0.2px;-webkit-text-stroke:0.3px #dcb662">1900</div>
<div class="t" style="left:803px;top:581.7px;font-size:9.9px;color:#aaa69a;letter-spacing:0.65px;-webkit-text-stroke:0.3px #aaa69a">Fiilt</div><div class="t" style="left:987px;top:581.7px;font-size:10.5px;color:#dcb662;letter-spacing:0.2px;-webkit-text-stroke:0.3px #dcb662">1000</div>
<div class="t" style="left:803px;top:608.0px;font-size:9.9px;color:#aaa69a;letter-spacing:-0.09px;-webkit-text-stroke:0.3px #aaa69a">Beninrdey 8R</div><div class="t" style="left:987px;top:608px;font-size:10.5px;color:#dcb662;letter-spacing:0.2px;-webkit-text-stroke:0.3px #dcb662">2000</div>
<div class="t" style="left:803px;top:633.7px;font-size:9.9px;color:#aaa69a;letter-spacing:0.0px;-webkit-text-stroke:0.3px #aaa69a">Bcantin</div><div class="t" style="left:987px;top:633.7px;font-size:10.5px;color:#dcb662;letter-spacing:0.2px;-webkit-text-stroke:0.3px #dcb662">2200</div>
<div class="t" style="left:803px;top:660.0px;font-size:9.9px;color:#aaa69a;letter-spacing:0.07px;-webkit-text-stroke:0.3px #aaa69a">Bromey Blt</div><div class="t" style="left:987px;top:660px;font-size:10.5px;color:#dcb662;letter-spacing:0.2px;-webkit-text-stroke:0.3px #dcb662">2300</div>
<div class="abs" style="left:823px;top:583px;width:153px;height:7.5px;border-radius:4px;background:#0a0908"></div>
<div class="abs" style="left:893px;top:583.5px;width:43px;height:6.5px;background:repeating-linear-gradient(90deg,#4a473e 0 1.3px,#24231f 1.3px 2.6px)"></div>
<div class="abs" style="left:823px;top:583px;width:71px;height:7.5px;border-radius:4px 1px 1px 4px;background:linear-gradient(90deg,#f3cf74,#e9bd5c)"></div>
<div class="abs" style="left:837px;top:635px;width:139px;height:7.5px;border-radius:4px;background:#0a0908"></div>
<div class="abs" style="left:895px;top:635.5px;width:48px;height:6.5px;background:repeating-linear-gradient(90deg,#4a473e 0 1.3px,#24231f 1.3px 2.6px)"></div>
<div class="abs" style="left:837.5px;top:635px;width:59px;height:7.5px;border-radius:2px 1px 1px 2px;background:linear-gradient(90deg,#b5852f,#cf9a3c)"></div>
</body>
</html>
